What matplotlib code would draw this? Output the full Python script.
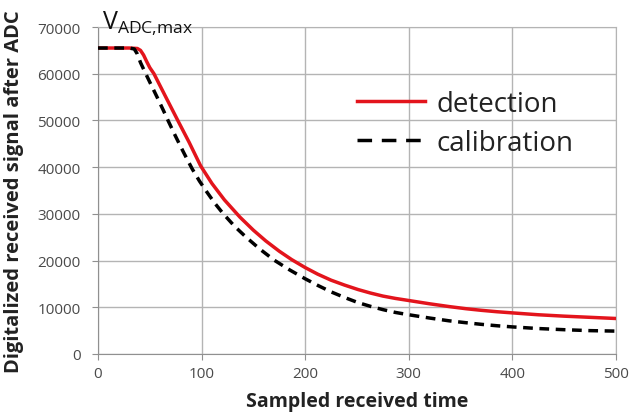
import matplotlib
matplotlib.use("Agg")
import matplotlib.pyplot as plt

# Data
det_x = [0, 30, 38, 41, 44, 47, 50, 54, 65, 77, 88, 99, 110, 122, 137, 150, 162, 175, 187, 200,
         212, 225, 238, 251, 263, 275, 287, 300, 320, 339, 355, 370, 385, 400, 425, 450, 475, 500]
det_y = [65500, 65500, 65400, 65000, 64000, 62600, 61300, 60000, 55200, 50000, 45300, 40300, 36500,
         33000, 29300, 26500, 24200, 22000, 20200, 18500, 17100, 15800, 14750, 13800, 13050, 12400,
         11900, 11450, 10750, 10150, 9700, 9350, 9050, 8800, 8400, 8100, 7850, 7600]

cal_x = [0, 30, 35, 38, 41, 45, 50, 57, 63, 68, 74, 80, 86, 91, 98, 105, 113, 121, 132, 143, 156,
         170, 185, 200, 212, 225, 238, 251, 263, 275, 287, 300, 320, 339, 355, 370, 385, 400, 425,
         450, 475, 500]
cal_y = [65500, 65500, 65300, 64200, 62400, 60500, 58200, 55000, 52200, 49800, 47000, 44300, 41700,
         39600, 37000, 34700, 32200, 30000, 27300, 25000, 22500, 20100, 18000, 16100, 14700, 13300,
         12100, 11000, 10200, 9500, 8900, 8400, 7700, 7100, 6700, 6350, 6050, 5800, 5450, 5200,
         5000, 4900]

x_ticks = [0, 100, 200, 300, 400, 500]
y_ticks = [0, 10000, 20000, 30000, 40000, 50000, 60000, 70000]

series_labels = ["detection", "calibration"]
x_label = "Sampled received time"
y_label = "Digitalized received signal after ADC"

plt.rcParams['font.family'] = ['Open Sans', 'DejaVu Sans']

fig = plt.figure(figsize=(6.41, 4.14), dpi=100)
ax = fig.add_axes([98/641, 1-355/414, (616-98)/641, (355-28)/414])

ax.plot(det_x, det_y, color='#e3141c', lw=2.5, label=series_labels[0], zorder=3,
        solid_joinstyle='round')
ax.plot(cal_x, cal_y, color='black', lw=2.5, dashes=(2.8, 1.9), label=series_labels[1], zorder=3)

ax.set_xlim(0, 500)
ax.set_ylim(0, 70000)
ax.set_xticks(x_ticks)
ax.set_yticks(y_ticks)
ax.tick_params(axis='both', labelsize=11, colors='#4a4a4a', length=4, width=0.8, color='#909090')
ax.tick_params(axis='y', pad=8.5)
ax.tick_params(axis='x', pad=4.5)
ax.grid(True, color='#b4b4b4', lw=1.0, zorder=0)
for s in ['left', 'bottom']:
    ax.spines[s].set_color('#909090')
for s in ['top', 'right']:
    ax.spines[s].set_color('#b4b4b4')

ax.set_xlabel(x_label, fontsize=14, fontweight='bold', color='#222222')
ax.set_ylabel(y_label, fontsize=14.5, fontweight='bold', color='#222222')
ax.xaxis.set_label_coords(0.5, (355-392)/327)
ax.yaxis.set_label_coords((24-98)/518, 0.5)

leg = ax.legend(loc='upper left', bbox_to_anchor=(0.5, (355-91)/327), frameon=False, fontsize=20,
                handlelength=2.45, handletextpad=0.43, labelspacing=0.4, borderpad=0,
                borderaxespad=0)
for t in leg.get_texts():
    t.set_color('#222222')
leg.get_lines()[1].set_dashes((4.2, 2.8))

fig.text(102/641, 1-30/414, r"V$_{\mathregular{ADC{,}max}}$", fontsize=18, color='#111111',
         ha='left', va='baseline')

fig.savefig("out.png", dpi=100)
